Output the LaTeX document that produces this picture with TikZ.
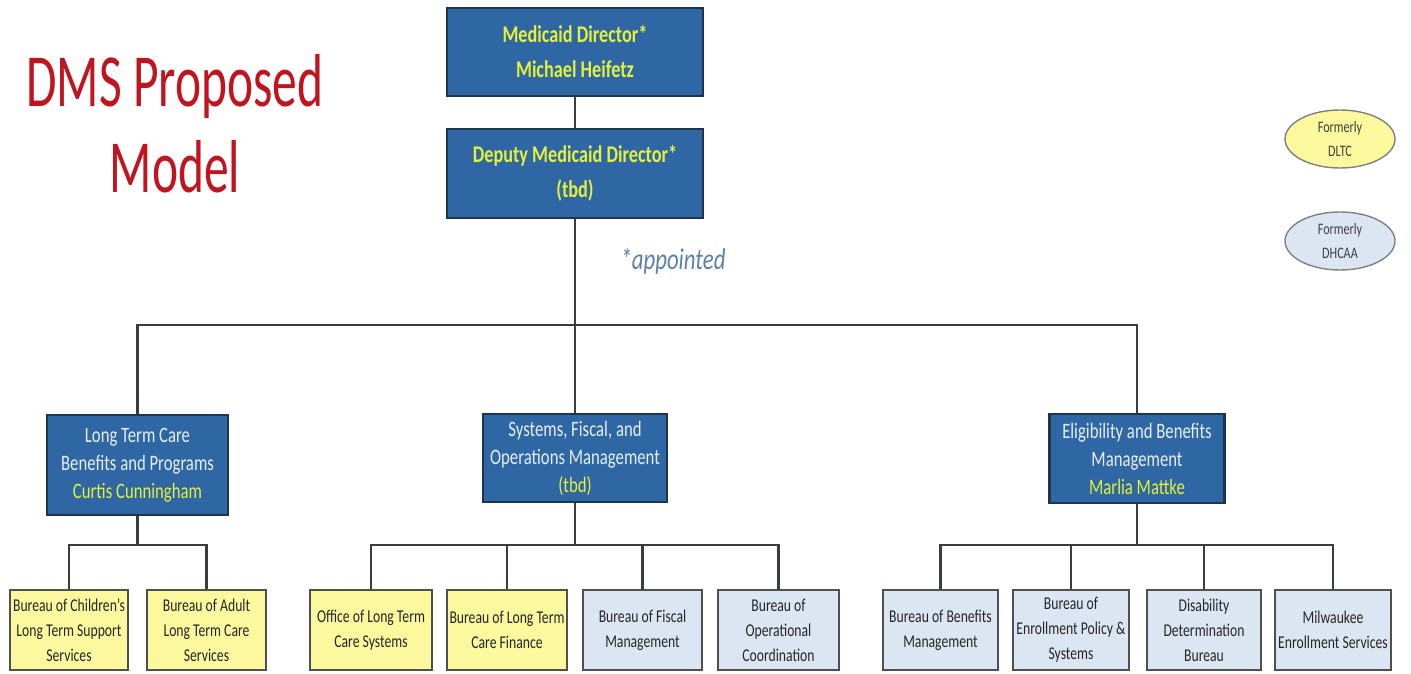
\documentclass[tikz,border=0pt]{standalone}
\usepackage{fontspec}
\setmainfont{Carlito}[FakeStretch=0.76]
\newfontfamily\titlefont{Carlito}[FakeStretch=0.66]
\usetikzlibrary{shapes.geometric}
\definecolor{boxblue}{HTML}{2E67A3}
\definecolor{boxedge}{HTML}{1E3550}
\definecolor{nameyellow}{HTML}{E4F03C}
\definecolor{titlewhite}{HTML}{E6EEF8}
\definecolor{paleyellow}{HTML}{FBF89E}
\definecolor{paleblue}{HTML}{DCE6F2}
\definecolor{edgegray}{HTML}{505050}
\definecolor{linegray}{HTML}{3C3C3C}
\definecolor{titlered}{HTML}{C0141E}
\definecolor{appblue}{HTML}{5E80AC}
\begin{document}
\begin{tikzpicture}[x=1pt,y=-1pt,
  bluebox/.style={draw=boxedge, line width=2.8pt, fill=boxblue, align=center, text=titlewhite, inner sep=0pt},
  topbox/.style={bluebox, text=nameyellow, minimum width=256pt, font=\fontsize{24}{35}\selectfont\bfseries},
  midbox/.style={bluebox, font=\fontsize{22}{28}\selectfont},
  childbox/.style={draw=edgegray, line width=2.2pt, align=center, inner sep=0pt, minimum height=80pt, text=black!85, font=\fontsize{18}{25}\selectfont},
  yelbox/.style={childbox, fill=paleyellow},
  lbbox/.style={childbox, fill=paleblue},
  conn/.style={draw=linegray, line width=2.4pt},
  note/.style={ellipse, draw=gray, line width=1.4pt, inner sep=0pt, minimum width=110pt, minimum height=58pt, align=center, text=black!75, font=\fontsize{16}{24}\selectfont}
]
\useasboundingbox (0,0) rectangle (1411,674);

% title
\node[anchor=base, text=titlered, font=\titlefont\fontsize{75}{86}\selectfont] (t1) at (175,107) {DMS Proposed};
\node[anchor=base, text=titlered, font=\titlefont\fontsize{75}{86}\selectfont] (t2) at (175,193) {Model};

% top boxes
\node[topbox, minimum height=88pt] (md) at (575,52) {Medicaid Director*\\Michael Heifetz};
\node[topbox, minimum height=89pt] (dmd) at (575,173.5) {Deputy Medicaid Director*\\(tbd)};
\node[anchor=base, text=appblue, font=\fontsize{30}{34}\selectfont\itshape] (app) at (673,269) {*appointed};

% legend
\node[note, fill=paleyellow] (fdltc) at (1340,139) {Formerly\\DLTC};
\node[note, fill=paleblue] (fdhcaa) at (1340,241) {Formerly\\DHCAA};

% middle boxes
\node[midbox, minimum width=181pt, minimum height=100pt] (ltc) at (137.5,465) {Long Term Care\\Benefits and Programs\\\textcolor{nameyellow}{Curtis Cunningham}};
\node[midbox, minimum width=184pt, minimum height=88pt] (sfo) at (575,458) {Systems, Fiscal, and\\Operations Management\\\textcolor{nameyellow}{(tbd)}};
\node[midbox, minimum width=175pt, minimum height=89pt] (ebm) at (1137,458.5) {Eligibility and Benefits\\Management\\\textcolor{nameyellow}{Marlia Mattke}};

% child boxes
\node[yelbox, minimum width=118pt] (c1) at (69,630) {Bureau of Children's\\Long Term Support\\Services};
\node[yelbox, minimum width=119pt] (c2) at (206.5,630) {Bureau of Adult\\Long Term Care\\Services};
\node[yelbox, minimum width=122pt] (s1) at (371,630) {Office of Long Term\\Care Systems};
\node[yelbox, minimum width=120pt] (s2) at (507,630) {Bureau of Long Term\\Care Finance};
\node[lbbox, minimum width=119pt] (s3) at (642.5,630) {Bureau of Fiscal\\Management};
\node[lbbox, minimum width=121pt] (s4) at (778.5,630) {Bureau of\\Operational\\Coordination};
\node[lbbox, minimum width=115pt] (e1) at (940.5,630) {Bureau of Benefits\\Management};
\node[lbbox, minimum width=116pt] (e2) at (1071,630) {Bureau of\\Enrollment Policy \&\\Systems};
\node[lbbox, minimum width=114pt] (e3) at (1204,630) {Disability\\Determination\\Bureau};
\node[lbbox, minimum width=116pt] (e4) at (1333,630) {Milwaukee\\Enrollment Services};

% bus coordinates
\coordinate (bus) at (575,325);
\coordinate (ltcbus) at (137.5,545);
\coordinate (sfobus) at (575,545);
\coordinate (ebmbus) at (1137,545);

% connectors
\draw[conn] (md.south) -- (dmd.north);
\draw[conn] (dmd.south) -- (sfo.north);
\draw[conn] (ltc.north) |- (bus) -| (ebm.north);

\draw[conn] (ltc.south) -- (ltcbus);
\draw[conn] (c1.north) |- (ltcbus) -| (c2.north);

\draw[conn] (sfo.south) -- (sfobus);
\draw[conn] (s1.north) |- (sfobus) -| (s4.north);
\draw[conn] (s2.north) -- (s2.north |- sfobus);
\draw[conn] (s3.north) -- (s3.north |- sfobus);

\draw[conn] (ebm.south) -- (ebmbus);
\draw[conn] (e1.north) |- (ebmbus) -| (e4.north);
\draw[conn] (e2.north) -- (e2.north |- ebmbus);
\draw[conn] (e3.north) -- (e3.north |- ebmbus);
\end{tikzpicture}
\end{document}
